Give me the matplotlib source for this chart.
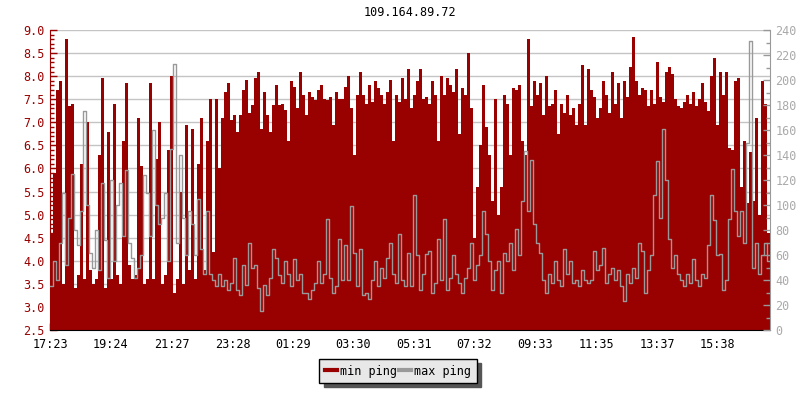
import numpy as np
import matplotlib
matplotlib.use("Agg")
import matplotlib.pyplot as plt
from matplotlib.ticker import MultipleLocator, FormatStrFormatter
from matplotlib.lines import Line2D

title = "109.164.89.72"
start_time = "17:23"
step_minutes = 6
tick_labels = ["17:23", "19:24", "21:27", "23:28", "01:29", "03:30",
               "05:31", "07:32", "09:33", "11:35", "13:37", "15:38"]
legend_labels = ["min ping", "max ping"]

# min ping (left axis)
min_ping = [
    4.6, 5.9, 7.7, 7.9, 3.5, 8.8, 7.35, 7.4, 3.4, 3.7, 6.1, 3.6, 7.0, 3.8, 3.5,
    3.6, 6.3, 7.95, 3.4, 6.8, 3.6, 7.4, 3.7, 3.5, 6.6, 7.85, 3.9, 3.6, 3.7, 7.1,
    6.05, 3.5, 3.6, 7.85, 3.6, 6.2, 7.0, 3.5, 3.7, 6.4, 8.0, 3.3, 3.6, 5.5, 3.5,
    6.95, 3.8, 6.85, 3.6, 6.1, 7.1, 3.8, 6.6, 7.5, 4.2, 7.5, 6.0, 7.1, 7.65, 7.85,
    7.05, 7.16, 6.8, 7.16, 7.7, 7.92, 7.2, 7.37, 7.95, 8.1, 6.85, 7.66, 7.16, 6.8, 7.37,
    7.8, 7.37, 7.4, 7.27, 6.6, 7.9, 7.77, 7.3, 8.1, 7.6, 7.16, 7.66, 7.55, 7.48, 7.7,
    7.8, 7.5, 7.48, 7.55, 6.95, 7.65, 7.5, 7.5, 7.77, 8.0, 7.3, 6.3, 7.6, 8.1, 7.6,
    7.4, 7.8, 7.45, 7.9, 7.75, 7.6, 7.4, 7.65, 7.92, 6.6, 7.6, 7.45, 7.95, 7.5, 8.15,
    7.3, 7.6, 7.9, 8.15, 7.5, 7.55, 7.4, 7.9, 7.6, 6.6, 8.0, 7.6, 7.95, 7.8, 7.65,
    8.15, 6.75, 7.75, 7.6, 8.5, 7.3, 4.5, 5.6, 6.5, 7.8, 6.9, 6.3, 5.3, 7.5, 5.0,
    5.6, 7.6, 7.4, 6.3, 7.75, 7.7, 7.8, 6.6, 6.3, 8.8, 7.35, 7.9, 7.6, 7.85, 7.15,
    8.0, 7.35, 7.4, 7.7, 6.75, 7.4, 7.2, 7.6, 7.15, 7.3, 6.95, 7.4, 8.25, 6.95, 8.15,
    7.7, 7.55, 7.1, 7.3, 7.9, 7.6, 7.2, 8.1, 7.4, 7.85, 7.1, 7.9, 7.55, 8.2, 8.85,
    7.9, 7.6, 7.75, 7.7, 7.35, 7.7, 7.4, 8.3, 7.55, 7.45, 8.1, 8.2, 8.05, 7.5, 7.35,
    7.3, 7.45, 7.6, 7.4, 7.65, 7.35, 7.5, 7.85, 7.45, 7.25, 8.0, 8.4, 6.95, 8.1, 7.6,
    8.1, 6.45, 6.4, 7.9, 7.95, 5.6, 6.6, 5.25, 6.35, 5.3, 7.1, 5.0, 7.9, 7.4, 4.6,
]

# max ping (right axis)
max_ping = [
    35, 55, 40, 70, 110, 52, 90, 125, 80, 68, 95, 175, 100, 62, 50,
    80, 48, 118, 72, 42, 120, 55, 100, 118, 75, 128, 70, 58, 42, 50,
    60, 124, 110, 75, 160, 100, 85, 90, 110, 55, 145, 213, 70, 140, 90,
    60, 95, 85, 60, 105, 65, 45, 95, 45, 40, 35, 45, 35, 40, 32,
    38, 58, 32, 28, 52, 36, 70, 50, 52, 34, 15, 36, 28, 42, 65,
    58, 44, 38, 55, 45, 35, 57, 40, 45, 30, 30, 25, 32, 38, 55,
    38, 45, 89, 42, 30, 35, 73, 40, 68, 40, 99, 62, 35, 65, 28,
    30, 25, 40, 55, 35, 50, 42, 58, 70, 45, 38, 77, 40, 35, 62,
    35, 108, 60, 32, 45, 61, 63, 30, 38, 73, 40, 89, 32, 42, 60,
    45, 38, 30, 42, 50, 70, 40, 52, 60, 95, 77, 55, 32, 48, 55,
    30, 62, 55, 70, 48, 81, 60, 103, 143, 95, 136, 85, 70, 62, 40,
    30, 45, 38, 55, 40, 35, 65, 45, 55, 38, 40, 35, 48, 40, 38,
    40, 63, 48, 52, 66, 38, 45, 50, 40, 48, 35, 23, 45, 38, 50,
    42, 70, 63, 30, 48, 60, 108, 135, 90, 161, 120, 73, 50, 60, 45,
    40, 35, 45, 38, 57, 40, 35, 45, 42, 68, 108, 88, 60, 61, 32,
    40, 89, 129, 95, 75, 95, 70, 150, 231, 50, 70, 45, 60, 70, 55,
]

RED = "#990000"
GRAY = "#999999"
MONO = "DejaVu Sans Mono"
FS = 8.5


def to_minutes(label):
    h, m = map(int, label.split(":"))
    sh, sm = map(int, start_time.split(":"))
    v = (h * 60 + m) - (sh * 60 + sm)
    return v + 1440 if v < 0 else v


n = len(min_ping)
x = np.arange(n + 1) * step_minutes
red = np.append(min_ping, min_ping[-1])
gray = np.append(max_ping, max_ping[-1])

fig = plt.figure(figsize=(8, 4), dpi=100)
ax = fig.add_axes([0.0625, 0.175, 0.9, 0.75])
ax2 = ax.twinx()

ax.fill_between(x, red, 2.5, step="post", color=RED, lw=0, zorder=2)
ax2.step(x, gray, where="post", color=GRAY, lw=1.0, zorder=3)

ax.set_xlim(0, n * step_minutes)
ax.set_ylim(2.5, 9.0)
ax2.set_ylim(0, 240)

ax.set_axisbelow(True)
ax.yaxis.set_major_locator(MultipleLocator(0.5))
ax.yaxis.set_minor_locator(MultipleLocator(0.1))
ax.yaxis.set_major_formatter(FormatStrFormatter("%.1f"))
ax.grid(axis="y", color="#c4c4c4", lw=1.0)
ax.grid(axis="x", visible=False)

ax2.yaxis.set_major_locator(MultipleLocator(20))
ax2.yaxis.set_minor_locator(MultipleLocator(10))

ax.set_xticks([to_minutes(t) for t in tick_labels])
ax.set_xticklabels(tick_labels)

for lab in ax.get_xticklabels():
    lab.set_fontfamily(MONO)
    lab.set_fontsize(FS)
for lab in ax.get_yticklabels():
    lab.set_fontfamily(MONO)
    lab.set_fontsize(FS)
    lab.set_color(RED)
for lab in ax2.get_yticklabels():
    lab.set_fontfamily(MONO)
    lab.set_fontsize(FS)
    lab.set_color("#aaaaaa")

ax.tick_params(axis="x", direction="in", length=5, width=1, color="black", pad=6)
ax.tick_params(axis="y", which="major", direction="in", length=5, width=1, color=RED, pad=4)
ax.tick_params(axis="y", which="minor", direction="in", length=3, width=1, color=RED)
ax2.tick_params(axis="y", which="major", direction="in", length=5, width=1, color=GRAY, pad=4)
ax2.tick_params(axis="y", which="minor", direction="in", length=3, width=1, color=GRAY)

for a in (ax, ax2):
    a.spines["top"].set_visible(False)
ax.spines["right"].set_visible(False)
ax.spines["left"].set_color(RED)
ax.spines["bottom"].set_color("black")
ax2.spines["left"].set_visible(False)
ax2.spines["bottom"].set_visible(False)
ax2.spines["right"].set_color(GRAY)

fig.text(0.5125, 0.97, title, ha="center", va="center", fontfamily=MONO, fontsize=FS)

handles = [Line2D([], [], color=RED, lw=3), Line2D([], [], color=GRAY, lw=3)]
fig.legend(handles, legend_labels, loc="center", bbox_to_anchor=(0.4975, 0.0725),
           ncol=2, frameon=True, fancybox=False,
           shadow={"ox": 3, "oy": -3, "facecolor": "#555555", "edgecolor": "#555555", "alpha": 1},
           edgecolor="black", facecolor="#e8e8e8", framealpha=1,
           handlelength=1.0, handletextpad=0.25, columnspacing=0.25, borderpad=0.45,
           prop={"family": MONO, "size": FS})

fig.savefig("out.png", dpi=100)
